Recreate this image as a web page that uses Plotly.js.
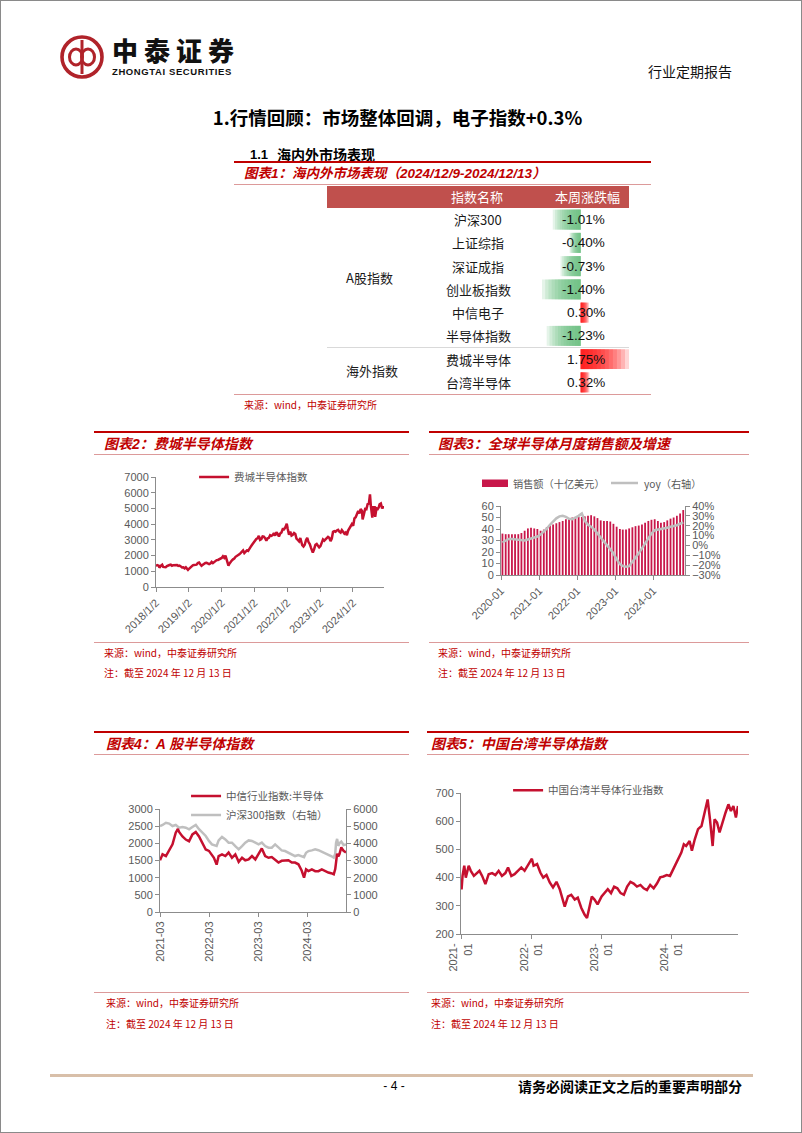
<!DOCTYPE html>
<html><head><meta charset="utf-8">
<script src="https://cdn.plot.ly/plotly-3.0.1.min.js"></script>
<style>
html,body{margin:0;padding:0;background:#fff;}
#page{position:relative;width:802px;height:1133px;box-sizing:border-box;border:1px solid #8a8a8a;overflow:hidden;background:#fff;font-family:"Liberation Sans","Noto Sans CJK SC",sans-serif;}
.t{position:absolute;white-space:nowrap;line-height:1;}
.cjk{font-family:"Noto Sans CJK SC",sans-serif;}
.r{position:absolute;}
.ttl{font-size:14px;font-weight:bold;font-style:italic;color:#c00000;font-family:"Liberation Sans","Noto Sans CJK SC",sans-serif;}
.src{font-size:10px;color:#c00000;}
.thick{height:2px;background:#c00000;}
.thin{height:1px;background:#dc9a9a;}
.pc{position:absolute;}
</style></head>
<body>
<div id="page">
  <!-- logo -->
  <svg class="r" style="left:58px;top:33px" width="46" height="46" viewBox="0 0 46 46">
    <circle cx="23" cy="23" r="20" fill="none" stroke="#b0232a" stroke-width="3.6"/>
    <ellipse cx="17" cy="23" rx="6.5" ry="8" fill="none" stroke="#b0232a" stroke-width="3"/>
    <ellipse cx="29" cy="23" rx="6.5" ry="8" fill="none" stroke="#b0232a" stroke-width="3"/>
    <line x1="23" y1="6" x2="23" y2="40" stroke="#b0232a" stroke-width="3"/>
  </svg>
  <div class="t cjk" style="left:111px;top:36px;font-size:26px;line-height:26px;height:26px;font-weight:900;letter-spacing:6px;color:#111;">中泰证券</div>
  <div class="t" style="left:111px;top:66px;font-size:9.5px;font-weight:bold;letter-spacing:0.6px;color:#111;">ZHONGTAI SECURITIES</div>
  <div class="t cjk" style="left:647px;top:63px;font-size:14px;color:#111;">行业定期报告</div>

  <div class="t cjk" style="left:0;width:793px;text-align:center;top:107px;font-size:18.5px;font-weight:bold;color:#000;">1.行情回顾：市场整体回调，电子指数+0.3%</div>

  <div class="t" style="left:249px;top:146.5px;font-size:13px;font-weight:bold;color:#000;">1.1</div>
  <div class="t cjk" style="left:276px;top:146px;font-size:14px;font-weight:bold;color:#000;">海内外市场表现</div>
  <div class="r thick" style="left:233px;top:160px;width:417px;"></div>
  <div class="t ttl" style="left:243px;top:166px;font-size:13.5px;">图表1：海内外市场表现（2024/12/9-2024/12/13）</div>
  <div class="r thin" style="left:233px;top:183px;width:417px;"></div>
  <div id="tbl" class="pc" style="left:230px;top:183px;width:425px;height:217px;"></div>
  <div class="r thin" style="left:233px;top:393px;width:417px;"></div>
  <div class="t src cjk" style="left:243px;top:399px;">来源：wind，中泰证券研究所</div>

  <!-- chart 2 panel -->
  <div class="r thick" style="left:93px;top:430px;width:315px;"></div>
  <div class="t ttl" style="left:103px;top:436px;">图表2：费城半导体指数</div>
  <div class="r thin" style="left:93px;top:453px;width:315px;"></div>
  <div id="c2" class="pc" style="left:90px;top:455px;width:310px;height:185px;"></div>
  <div class="r thin" style="left:93px;top:641px;width:315px;"></div>
  <div class="t src cjk" style="left:103px;top:647px;">来源：wind，中泰证券研究所</div>
  <div class="t src cjk" style="left:103px;top:667px;">注：截至 2024 年 12 月 13 日</div>

  <!-- chart 3 panel -->
  <div class="r thick" style="left:428px;top:430px;width:320px;"></div>
  <div class="t ttl" style="left:437px;top:436px;">图表3：全球半导体月度销售额及增速</div>
  <div class="r thin" style="left:428px;top:453px;width:320px;"></div>
  <div id="c3" class="pc" style="left:420px;top:455px;width:320px;height:185px;"></div>
  <div class="r thin" style="left:428px;top:641px;width:320px;"></div>
  <div class="t src cjk" style="left:437px;top:647px;">来源：wind，中泰证券研究所</div>
  <div class="t src cjk" style="left:437px;top:667px;">注：截至 2024 年 12 月 13 日</div>

  <!-- chart 4 panel -->
  <div class="r thick" style="left:93px;top:730px;width:315px;"></div>
  <div class="t ttl" style="left:105px;top:736px;">图表4：A 股半导体指数</div>
  <div class="r thin" style="left:93px;top:753px;width:315px;"></div>
  <div id="c4" class="pc" style="left:90px;top:756px;width:310px;height:234px;"></div>
  <div class="r thin" style="left:93px;top:991px;width:315px;"></div>
  <div class="t src cjk" style="left:105px;top:997px;">来源：wind，中泰证券研究所</div>
  <div class="t src cjk" style="left:105px;top:1018px;">注：截至 2024 年 12 月 13 日</div>

  <!-- chart 5 panel -->
  <div class="r thick" style="left:426px;top:730px;width:322px;"></div>
  <div class="t ttl" style="left:430px;top:736px;">图表5：中国台湾半导体指数</div>
  <div class="r thin" style="left:426px;top:753px;width:322px;"></div>
  <div id="c5" class="pc" style="left:420px;top:756px;width:328px;height:234px;"></div>
  <div class="r thin" style="left:426px;top:991px;width:322px;"></div>
  <div class="t src cjk" style="left:430px;top:997px;">来源：wind，中泰证券研究所</div>
  <div class="t src cjk" style="left:430px;top:1018px;">注：截至 2024 年 12 月 13 日</div>

  <!-- footer -->
  <div class="r" style="left:49px;top:1073px;width:703px;height:2.5px;background:#d8bfa9;"></div>
  <div class="t" style="left:373px;width:40px;text-align:center;top:1079px;font-size:12px;color:#000;">- 4 -</div>
  <div class="t cjk" style="left:517px;top:1078px;font-size:14px;font-weight:bold;color:#000;">请务必阅读正文之后的重要声明部分</div>
</div>

<script>
// ---------------- DATA ----------------
// Table 1
const tblHeader = ['指数名称', '本周涨跌幅'];
const tblGroups = ['A股指数', '海外指数'];
const tblNames = ['沪深300', '上证综指', '深证成指', '创业板指数', '中信电子', '半导体指数', '费城半导体', '台湾半导体'];
const tblChanges = [-1.01, -0.40, -0.73, -1.40, 0.30, -1.23, 1.75, 0.32];

// Chart 2: Philadelphia semiconductor index
const soxDates = ['2018-01-02','2018-01-16','2018-02-01','2018-02-09','2018-02-23','2018-03-12','2018-03-23','2018-04-05','2018-04-20','2018-05-04','2018-05-18','2018-06-01','2018-06-15','2018-06-29','2018-07-13','2018-07-27','2018-08-10','2018-08-24','2018-09-07','2018-09-21','2018-10-05','2018-10-19','2018-11-02','2018-11-16','2018-11-30','2018-12-14','2018-12-24',
'2019-01-04','2019-01-18','2019-02-01','2019-02-15','2019-03-01','2019-03-15','2019-03-29','2019-04-12','2019-04-26','2019-05-10','2019-05-24','2019-06-07','2019-06-21','2019-07-05','2019-07-19','2019-08-02','2019-08-16','2019-08-30','2019-09-13','2019-09-27','2019-10-11','2019-10-25','2019-11-08','2019-11-22','2019-12-06','2019-12-20',
'2020-01-03','2020-01-17','2020-01-31','2020-02-14','2020-02-28','2020-03-13','2020-03-18','2020-03-27','2020-04-10','2020-04-24','2020-05-08','2020-05-22','2020-06-05','2020-06-19','2020-07-03','2020-07-17','2020-07-31','2020-08-14','2020-08-28','2020-09-11','2020-09-25','2020-10-09','2020-10-23','2020-11-06','2020-11-20','2020-12-04','2020-12-18',
'2021-01-08','2021-01-22','2021-02-05','2021-02-19','2021-03-05','2021-03-19','2021-04-02','2021-04-16','2021-04-30','2021-05-14','2021-05-28','2021-06-11','2021-06-25','2021-07-09','2021-07-23','2021-08-06','2021-08-20','2021-09-03','2021-09-17','2021-10-01','2021-10-15','2021-10-29','2021-11-12','2021-11-26','2021-12-10','2021-12-27',
'2022-01-07','2022-01-21','2022-02-04','2022-02-18','2022-03-04','2022-03-18','2022-04-01','2022-04-14','2022-04-29','2022-05-13','2022-05-27','2022-06-10','2022-06-17','2022-07-01','2022-07-15','2022-07-29','2022-08-12','2022-08-26','2022-09-09','2022-09-23','2022-10-07','2022-10-13','2022-10-28','2022-11-11','2022-11-25','2022-12-09','2022-12-23',
'2023-01-06','2023-01-20','2023-02-03','2023-02-17','2023-03-03','2023-03-17','2023-03-31','2023-04-14','2023-04-28','2023-05-12','2023-05-26','2023-06-09','2023-06-23','2023-07-07','2023-07-21','2023-08-04','2023-08-18','2023-09-01','2023-09-15','2023-09-29','2023-10-13','2023-10-27','2023-11-10','2023-11-24','2023-12-08','2023-12-22',
'2024-01-05','2024-01-19','2024-02-02','2024-02-16','2024-03-01','2024-03-15','2024-03-28','2024-04-12','2024-04-19','2024-05-03','2024-05-17','2024-05-31','2024-06-14','2024-06-28','2024-07-10','2024-07-19','2024-08-05','2024-08-16','2024-08-30','2024-09-06','2024-09-20','2024-10-04','2024-10-15','2024-10-25','2024-11-08','2024-11-22','2024-12-06','2024-12-13'];
const soxVals = [1330,1390,1360,1230,1340,1420,1280,1290,1260,1330,1380,1400,1420,1350,1390,1380,1370,1400,1340,1360,1310,1240,1250,1180,1250,1170,1090,
1160,1250,1310,1380,1400,1430,1420,1530,1560,1450,1350,1410,1480,1530,1540,1500,1460,1500,1600,1520,1590,1660,1710,1720,1760,1840,
1850,1960,1860,2000,1760,1550,1360,1470,1620,1680,1760,1810,1920,1960,2040,2080,2160,2220,2330,2160,2260,2330,2300,2470,2550,2670,2770,
2990,3060,3100,3250,3000,3050,3220,3200,3110,2950,3100,3130,3290,3250,3300,3430,3270,3480,3380,3210,3400,3470,3680,3670,3780,4030,
3690,3330,3520,3270,3320,3430,3370,3080,2990,2900,3120,2900,2660,2580,2690,2980,3130,2860,2730,2490,2310,2200,2420,2690,2740,2660,2520,
2600,2790,3030,2950,3030,3050,3190,3130,2920,3080,3510,3560,3520,3600,3640,3520,3460,3620,3540,3400,3470,3290,3590,3720,3860,4000,
3890,4370,4440,4660,4830,4690,4960,4840,4300,4610,4970,4950,5270,5310,5890,5200,4410,5080,5080,4460,5010,4960,5060,5260,5310,5000,5120,4990];
const soxTickVals = ['2018-01-02','2019-01-02','2020-01-02','2021-01-02','2022-01-02','2023-01-02','2024-01-02'];
const soxTickText = ['2018/1/2','2019/1/2','2020/1/2','2021/1/2','2022/1/2','2023/1/2','2024/1/2'];

// Chart 3: global semiconductor monthly sales & yoy
const semiMonths = ['2020-01','2020-02','2020-03','2020-04','2020-05','2020-06','2020-07','2020-08','2020-09','2020-10','2020-11','2020-12',
'2021-01','2021-02','2021-03','2021-04','2021-05','2021-06','2021-07','2021-08','2021-09','2021-10','2021-11','2021-12',
'2022-01','2022-02','2022-03','2022-04','2022-05','2022-06','2022-07','2022-08','2022-09','2022-10','2022-11','2022-12',
'2023-01','2023-02','2023-03','2023-04','2023-05','2023-06','2023-07','2023-08','2023-09','2023-10','2023-11','2023-12',
'2024-01','2024-02','2024-03','2024-04','2024-05','2024-06','2024-07','2024-08','2024-09','2024-10'];
const semiSales = [36,35.5,35.5,35.5,35.5,35.5,36.5,38.5,40.5,41,40.5,40,
38.5,39.5,41.5,43,44,45,46,47,48.5,49.5,50,50.5,
50.5,50.5,51,51.5,52,51,49.5,47.5,47,47,46.5,44.5,
42,40,39.5,39.5,40.5,41.5,42.5,43,44,45.5,47,48,
48.5,47,45.5,46,47.5,49,50,51.5,53.5,56.5];
const semiYoy = [0.03,0.05,0.065,0.065,0.06,0.055,0.05,0.05,0.06,0.07,0.075,0.09,
0.11,0.14,0.17,0.21,0.245,0.275,0.295,0.30,0.29,0.27,0.265,0.28,
0.30,0.325,0.25,0.21,0.19,0.16,0.12,0.08,0.04,0.00,-0.035,-0.08,
-0.14,-0.19,-0.21,-0.215,-0.21,-0.17,-0.12,-0.08,-0.03,0.02,0.07,0.12,
0.155,0.16,0.165,0.17,0.18,0.19,0.195,0.205,0.22,0.235];
const semiTickVals = ['2020-01-01','2021-01-01','2022-01-01','2023-01-01','2024-01-01'];
const semiTickText = ['2020-01','2021-01','2022-01','2023-01','2024-01'];
const semiLegend = ['销售额（十亿美元）','yoy（右轴）'];

// Chart 4: A-share semiconductor index vs CSI 300
const citicDates = ['2021-03-01','2021-03-20','2021-04-14','2021-05-08','2021-06-02','2021-06-26','2021-07-12','2021-07-21','2021-08-15','2021-09-09','2021-10-03','2021-10-28','2021-11-22','2021-12-16',
'2022-01-10','2022-02-04','2022-02-28','2022-03-22','2022-04-06','2022-04-26','2022-05-11','2022-06-05','2022-06-30','2022-07-24','2022-08-18','2022-09-12','2022-10-07','2022-11-01','2022-11-25','2022-12-20',
'2023-01-14','2023-02-08','2023-03-04','2023-03-28','2023-04-22','2023-05-17','2023-06-10','2023-07-05','2023-07-30','2023-08-23','2023-09-17','2023-10-12','2023-11-06','2023-11-30','2023-12-25',
'2024-01-19','2024-02-05','2024-02-20','2024-03-09','2024-04-03','2024-04-28','2024-05-22','2024-06-16','2024-07-11','2024-08-04','2024-08-24','2024-09-13','2024-09-24','2024-09-30','2024-10-08','2024-10-17','2024-10-25','2024-11-08','2024-11-25','2024-12-13'];
const citicVals = [1505,1680,1630,1780,1970,2310,2420,2330,2200,2110,2060,2260,2330,2200,
2010,1820,1780,1680,1580,1380,1630,1680,1630,1730,1580,1680,1460,1580,1505,1530,
1630,1530,1680,1850,1630,1580,1600,1530,1440,1490,1490,1505,1440,1440,1390,
1200,1000,1240,1190,1240,1190,1190,1240,1190,1150,1130,1100,1250,1490,1700,1620,1680,1880,1780,1730];
const hs300Dates = ['2021-03-01','2021-03-20','2021-04-14','2021-05-08','2021-06-02','2021-06-26','2021-07-21','2021-08-15','2021-09-09','2021-10-03','2021-10-28','2021-11-22','2021-12-16',
'2022-01-10','2022-02-04','2022-02-28','2022-03-22','2022-04-26','2022-05-11','2022-06-05','2022-06-30','2022-07-24','2022-08-18','2022-09-12','2022-10-07','2022-11-01','2022-11-25','2022-12-20',
'2023-01-14','2023-02-08','2023-03-04','2023-03-28','2023-04-22','2023-05-17','2023-06-10','2023-07-05','2023-07-30','2023-08-23','2023-09-17','2023-10-12','2023-11-06','2023-11-30','2023-12-25',
'2024-01-19','2024-02-05','2024-02-20','2024-03-09','2024-04-03','2024-04-28','2024-05-22','2024-06-16','2024-07-11','2024-08-04','2024-08-24','2024-09-13','2024-09-24','2024-09-30','2024-10-08','2024-10-17','2024-10-25','2024-11-08','2024-11-25','2024-12-13'];
const hs300Vals = [5010,5070,5200,5150,5010,5070,4910,4950,4910,4820,4950,5070,4820,
4620,4430,4140,3940,3850,4170,4370,4230,4040,4040,3840,3650,3840,4040,4170,
4140,4040,3940,4040,3840,3750,3750,3940,3750,3590,3550,3460,3360,3260,3320,
3250,3200,3450,3550,3590,3650,3600,3510,3460,3360,3260,3170,3400,4020,4260,3850,4000,4100,3900,3930];
const c4TickVals = ['2021-03-01','2022-03-01','2023-03-01','2024-03-01'];
const c4TickText = ['2021-03','2022-03','2023-03','2024-03'];

// Chart 5: China Taiwan semiconductor index
const twDates = ['2021-01-04','2021-01-09','2021-01-18','2021-01-26','2021-02-10','2021-02-21','2021-03-09','2021-03-26','2021-04-07','2021-04-21','2021-05-08','2021-05-25','2021-06-12','2021-06-29','2021-07-16','2021-08-02','2021-08-20','2021-09-03','2021-09-20','2021-10-07','2021-10-24','2021-11-11','2021-11-28','2021-12-15',
'2022-01-05','2022-01-14','2022-02-01','2022-02-18','2022-03-05','2022-03-22','2022-04-08','2022-04-25','2022-05-13','2022-05-30','2022-06-16','2022-06-25','2022-07-12','2022-07-29','2022-08-16','2022-09-01','2022-09-19','2022-10-06','2022-10-19','2022-11-01','2022-11-13','2022-11-27','2022-12-13',
'2023-01-03','2023-01-18','2023-02-04','2023-02-21','2023-03-09','2023-03-26','2023-04-12','2023-04-29','2023-05-16','2023-06-02','2023-06-19','2023-07-06','2023-07-24','2023-08-10','2023-08-27','2023-09-13','2023-10-01','2023-10-18','2023-11-04','2023-11-21','2023-12-08','2023-12-25',
'2024-01-16','2024-02-04','2024-02-22','2024-03-06','2024-03-18','2024-04-05','2024-04-17','2024-05-02','2024-05-19','2024-06-06','2024-06-21','2024-07-08','2024-07-20','2024-08-03','2024-08-13','2024-08-26','2024-09-08','2024-09-22','2024-10-09','2024-10-24','2024-11-06','2024-11-19','2024-12-02','2024-12-13'];
const twVals = [358,406,442,400,442,424,406,418,424,406,377,412,416,409,424,406,416,436,406,412,424,436,424,442,
467,442,448,418,400,409,383,365,385,359,324,297,333,339,322,329,293,269,257,299,333,322,305,
333,347,359,345,368,362,345,339,368,385,379,368,374,362,356,374,362,379,401,404,409,406,
436,459,489,518,512,530,495,536,572,583,630,677,607,512,607,595,560,595,630,660,636,654,613,654];
const twTickVals = ['2021-01-01','2022-01-01','2023-01-01','2024-01-01'];
const twTickText = ['2021-<br>01','2022-<br>01','2023-<br>01','2024-<br>01'];

// ---------------- STYLE ----------------
const FONT = 'Liberation Sans, Arial, Noto Sans CJK SC, sans-serif';
const CJK = 'Noto Sans CJK SC, sans-serif';
const AXC = '#8c8c8c';
const RED = '#c5102f';
const GRAY = '#bfbfbf';
const TXT = '#595959';
const cfg = {staticPlot: true, displayModeBar: false};
function ax(extra) {
  return Object.assign({showgrid:false, zeroline:false, showline:true, linecolor:AXC, linewidth:1, automargin:false,
    ticks:'outside', ticklen:4, tickcolor:AXC, tickwidth:1, tickfont:{family:FONT, size:11, color:TXT}, fixedrange:true}, extra);
}
function base(w, h, m) {
  return {width:w, height:h, margin:Object.assign({autoexpand:false}, m), paper_bgcolor:'rgba(0,0,0,0)', plot_bgcolor:'rgba(0,0,0,0)',
    font:{family:FONT, size:11, color:TXT}};
}

// ---------------- TABLE ----------------
(function(){
  const W = 425, H = 217, L = 230, T = 183;
  const px = x => (x - L) / W;
  const py = y => (T + H - y) / H;
  const layers = [1, 0.917, 0.833, 0.75, 0.667, 0.583, 0.5, 0.417, 0.333, 0.25, 0.167, 0.083];
  const colors = tblChanges.map(v => v < 0 ? '#63BE7B' : '#FF0A0A');
  const idx = tblNames.map((_, i) => i);
  const traces = layers.map(k => ({type:'bar', orientation:'h', y:idx, x:tblChanges.map(v => v * k),
    marker:{color:colors, line:{width:0}}, opacity:0.16, width:0.86, showlegend:false, hoverinfo:'skip'}));
  const ann = [];
  tblNames.forEach((n, i) => {
    ann.push({xref:'paper', yref:'y', x:px(477), y:i, text:n, showarrow:false, xanchor:'center', yanchor:'middle',
      font:{family:CJK, size:13, color:'#1a1a1a'}});
    ann.push({xref:'paper', yref:'y', x:px(606), y:i, text:tblChanges[i].toFixed(2) + '%', showarrow:false, xanchor:'right', yanchor:'middle',
      font:{family:FONT, size:13.5, color:'#111'}});
  });
  ann.push({xref:'paper', yref:'y', x:px(343), y:2.5, text:tblGroups[0], showarrow:false, xanchor:'left', yanchor:'middle', font:{family:CJK, size:13, color:'#1a1a1a'}});
  ann.push({xref:'paper', yref:'y', x:px(343), y:6.5, text:tblGroups[1], showarrow:false, xanchor:'left', yanchor:'middle', font:{family:CJK, size:13, color:'#1a1a1a'}});
  ann.push({xref:'paper', yref:'paper', x:px(476), y:py(196), text:tblHeader[0], showarrow:false, xanchor:'center', yanchor:'middle', font:{family:CJK, size:13, color:'#fff'}});
  ann.push({xref:'paper', yref:'paper', x:px(586), y:py(196), text:tblHeader[1], showarrow:false, xanchor:'center', yanchor:'middle', font:{family:CJK, size:13, color:'#fff'}});
  const lay = Object.assign(base(W, H, {l:0, r:0, t:0, b:0}), {
    barmode:'overlay', showlegend:false,
    xaxis:{domain:[px(541), px(628)], range:[-1.40, 1.75], visible:false, fixedrange:true},
    yaxis:{domain:[py(393), py(207)], range:[7.5, -0.5], visible:false, fixedrange:true},
    annotations:ann,
    shapes:[
      {type:'rect', xref:'paper', yref:'paper', x0:px(326), x1:px(628), y0:py(207), y1:py(185), fillcolor:'#c0504d', line:{width:0}, layer:'below'},
      {type:'line', xref:'paper', yref:'y', x0:px(326), x1:px(628), y0:5.5, y1:5.5, line:{color:'#d9d9d9', width:1}}
    ]
  });
  Plotly.newPlot('tbl', traces, lay, cfg);
})();

// ---------------- CHART 2 ----------------
Plotly.newPlot('c2', [
  {type:'scatter', mode:'lines', x:soxDates, y:soxVals, name:'费城半导体指数', line:{color:RED, width:2.5}}
], Object.assign(base(310, 185, {l:65, r:17, t:21, b:54}), {
  showlegend:true,
  legend:{x:0.167, y:1.0, xanchor:'left', yanchor:'middle', bgcolor:'rgba(0,0,0,0)', font:{family:CJK, size:10.5, color:TXT}},
  xaxis:ax({type:'date', range:['2018-01-02','2024-12-13'], tickvals:soxTickVals, ticktext:soxTickText, tickangle:-45}),
  yaxis:ax({range:[0,7000], tickvals:[0,1000,2000,3000,4000,5000,6000,7000]})
}), cfg);

// ---------------- CHART 3 ----------------
(function(){
  const W = 320, H = 185, m = {l:80, r:56, t:50, b:66};
  const pw = W - m.l - m.r, ph = H - m.t - m.b;
  const PL = 420 + m.l, PB = 455 + H - m.b;
  const px = x => (x - PL) / pw;
  const py = y => (PB - y) / ph;
  const xs = semiMonths.map(s => s + '-15');
  Plotly.newPlot('c3', [
    {type:'bar', x:xs, y:semiSales, name:semiLegend[0], marker:{color:'#c8174a', line:{width:0}}, showlegend:false},
    {type:'scatter', mode:'lines', x:xs, y:semiYoy, yaxis:'y2', name:semiLegend[1], line:{color:GRAY, width:2.5}, showlegend:false}
  ], Object.assign(base(W, H, m), {
    bargap:0.38,
    xaxis:ax({type:'date', range:['2020-01-01','2024-11-01'], tickvals:semiTickVals, ticktext:semiTickText, tickangle:-45}),
    yaxis:ax({range:[0,60], dtick:10}),
    yaxis2:ax({range:[-0.3,0.4], dtick:0.1, tickformat:'.0%', overlaying:'y', side:'right'}),
    shapes:[
      {type:'rect', xref:'paper', yref:'paper', x0:px(481), x1:px(507), y0:py(486), y1:py(478.5), fillcolor:'#c8174a', line:{width:0}},
      {type:'line', xref:'paper', yref:'paper', x0:px(610), x1:px(637), y0:py(482), y1:py(482), line:{color:GRAY, width:2.5}}
    ],
    annotations:[
      {xref:'paper', yref:'paper', x:px(510), y:py(482), text:semiLegend[0], showarrow:false, xanchor:'left', yanchor:'middle', font:{family:CJK, size:10.2, color:TXT}},
      {xref:'paper', yref:'paper', x:px(641), y:py(482), text:semiLegend[1], showarrow:false, xanchor:'left', yanchor:'middle', font:{family:CJK, size:10.2, color:TXT}}
    ]
  }), cfg);
})();

// ---------------- CHART 4 ----------------
Plotly.newPlot('c4', [
  {type:'scatter', mode:'lines', x:citicDates, y:citicVals, name:'中信行业指数:半导体', yaxis:'y2', line:{color:RED, width:2.5}},
  {type:'scatter', mode:'lines', x:hs300Dates, y:hs300Vals, name:'沪深300指数（右轴）', line:{color:GRAY, width:2.5}}
], Object.assign(base(310, 234, {l:69, r:55, t:52, b:79}), {
  showlegend:true,
  legend:{x:0.14, y:1.035, xanchor:'left', yanchor:'middle', bgcolor:'rgba(0,0,0,0)', tracegroupgap:0, font:{family:CJK, size:10.5, color:TXT}},
  xaxis:ax({type:'date', range:['2021-03-01','2024-12-13'], tickvals:c4TickVals, ticktext:c4TickText, tickangle:-90}),
  yaxis:ax({range:[0,6000], dtick:1000, side:'right'}),
  yaxis2:ax({range:[0,3000], dtick:500, side:'left', overlaying:'y'})
}), cfg);

// ---------------- CHART 5 ----------------
Plotly.newPlot('c5', [
  {type:'scatter', mode:'lines', x:twDates, y:twVals, name:'中国台湾半导体行业指数', line:{color:RED, width:2.5}}
], Object.assign(base(328, 234, {l:40, r:11, t:36, b:57}), {
  showlegend:true,
  legend:{x:0.17, y:1.02, xanchor:'left', yanchor:'middle', bgcolor:'rgba(0,0,0,0)', font:{family:CJK, size:10.5, color:TXT}},
  xaxis:ax({type:'date', range:['2021-01-01','2024-12-13'], tickvals:twTickVals, ticktext:twTickText, tickangle:-90}),
  yaxis:ax({range:[200,700], dtick:100})
}), cfg);
</script>
</body></html>
